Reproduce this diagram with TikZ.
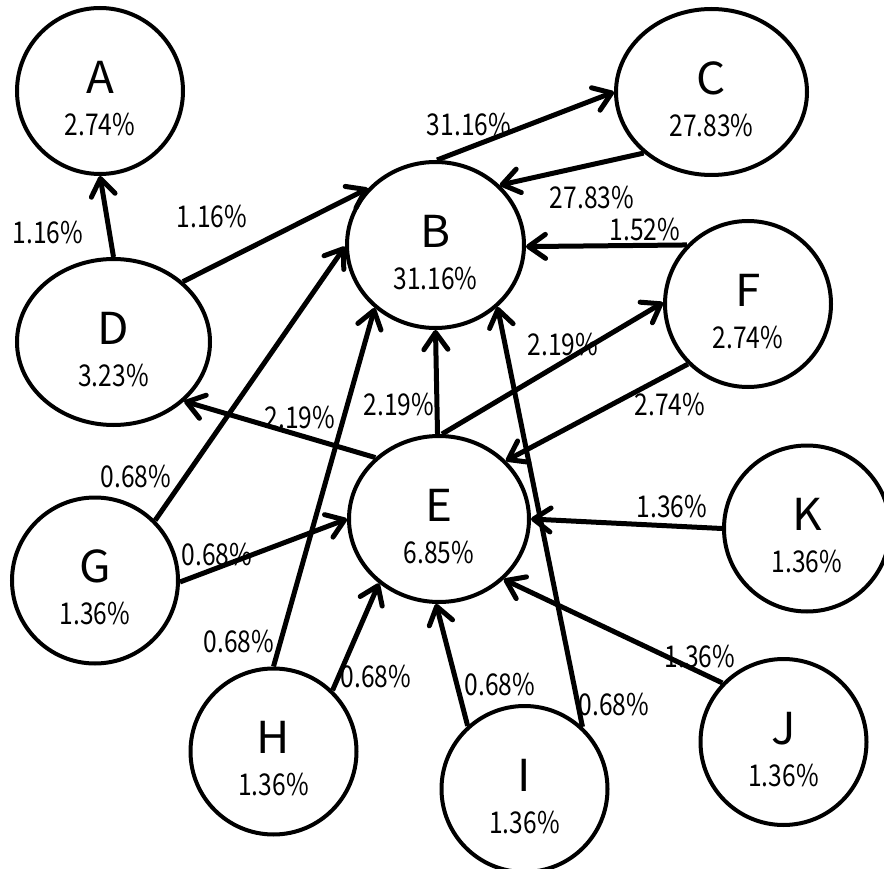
\documentclass[tikz,border=0pt]{standalone}
\usepackage{fontspec}
\setmainfont{Noto Sans CJK JP}[FakeStretch=0.82]
\newfontfamily\namefamily{Noto Sans CJK JP}[FakeStretch=1.04]
\usepackage{tikz}
\usetikzlibrary{arrows.meta,shapes.geometric}

\newcommand{\pctfont}{\fontsize{30}{42}\selectfont}
\newcommand{\namefont}{\namefamily\fontsize{44}{44}\selectfont}

\tikzset{
  state/.style={ellipse, draw, line width=4pt, inner sep=0pt, minimum height=166pt,
    align=center, font=\pctfont},
  link/.style={line width=5pt, -{Straight Barb[length=17pt, width=24pt, round]}},
  rate/.style={font=\pctfont, inner sep=0pt},
}

\begin{document}
\begin{tikzpicture}[x=1pt, y=-1pt]
    \useasboundingbox (0,0) rectangle (884,869);
    \foreach \nm/\x/\y/\w/\p in {A/100/91/166/2.74, B/435.5/245/177/31.16,
        C/711.5/92/191/27.83, D/113.5/342/193/3.23, E/439/519/180/6.85,
        F/748/304/166/2.74, G/95/580.5/166/1.36, H/273.5/751.5/166/1.36,
        I/524.5/789/166/1.36, J/783.5/742/166/1.36, K/807/528.5/166/1.36} {
      \node[state, minimum width=\w pt] (\nm) at (\x,\y) {\rule{0pt}{47pt}{\namefont\nm}\\\p\%};
    }
    \draw[link] (D.90) -- (A.270);
    \draw[link] (D.41) -- (B.140);
    \draw[link] (B.89) -- (C.180);
    \draw[link] (C.222) -- (B.43);
    \draw[link] (F.136) -- (B.359);
    \draw[link] (E.88) -- (F.179);
    \draw[link] (F.225) -- (E.41);
    \draw[link] (E.91) -- (B.270);
    \draw[link] (E.136) -- (D.320);
    \draw[link] (G.45) -- (B.181);
    \draw[link] (G.359) -- (E.180);
    \draw[link] (H.90) -- (B.226);
    \draw[link] (H.46) -- (E.227);
    \draw[link] (I.132) -- (E.268);
    \draw[link] (I.47) -- (B.315);
    \draw[link] (K.180) -- (E.0);
    \draw[link] (J.136) -- (E.317);
    \foreach \nm/\x/\y/\p in {da/48/233/1.16, db/212/217/1.16, bc/469/125/31.16,
        cb/592/198/27.83, fb/645/230/1.52, ef/563/345/2.19, fe/670/405/2.74,
        eb/399/405/2.19, ed/300/418/2.19, gb/136/477/0.68, ge/217/555/0.68,
        hb/239/642/0.68, he/376/677/0.68, ie/500/685/0.68, ib/614/705/0.68,
        ke/672/507/1.36, je/700/657/1.36} {
      \node[rate] (r-\nm) at (\x,\y) {\p\%};
    }
  \end{tikzpicture}
\end{document}
